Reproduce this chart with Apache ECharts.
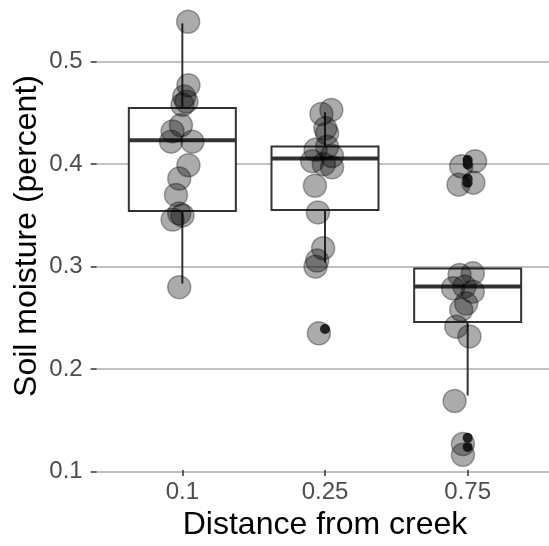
<!DOCTYPE html>
<html>
<head>
<meta charset="utf-8">
<script src="https://cdn.jsdelivr.net/npm/echarts@6/dist/echarts.min.js"></script>
<style>
  html, body { margin: 0; padding: 0; background: #fff; }
  #chart { width: 549px; height: 546px; }
</style>
</head>
<body>
<div id="chart"></div>
<script>
// distance categories and tick labels
const categories = ['0.1', '0.25', '0.75'];
const yTicks = [0.1, 0.2, 0.3, 0.4, 0.5];

// box stats per category: [lower whisker, Q1, median, Q3, upper whisker]
const boxStats = [
    [0.280, 0.352, 0.422, 0.454, 0.538],
    [0.301, 0.353, 0.404, 0.416, 0.450],
    [0.169, 0.242, 0.277, 0.295, 0.295]
];

// outliers: [category index, value]
const outliers = [
    [1, 0.235],
    [2, 0.4025], [2, 0.398], [2, 0.384], [2, 0.380],
    [2, 0.127], [2, 0.118]
];

// soil moisture samples per distance, with horizontal jitter (category units)
const moist01 = [0.539, 0.477, 0.466, 0.461, 0.458, 0.438, 0.432, 0.422, 0.422, 0.399, 0.386, 0.370, 0.352, 0.350, 0.346, 0.280];
const jitter01 = [0.047, 0.049, 0.019, 0.035, 0.007, -0.004, -0.063, -0.074, 0.077, 0.049, -0.016, -0.039, -0.016, 0.007, -0.063, -0.016];

const moist025 = [0.453, 0.449, 0.435, 0.430, 0.417, 0.414, 0.408, 0.403, 0.400, 0.397, 0.379, 0.353, 0.318, 0.306, 0.300, 0.235];
const jitter025 = [0.060, -0.010, 0.018, 0.030, 0.030, -0.052, 0.065, -0.075, 0.007, 0.065, -0.056, -0.035, 0.002, -0.040, -0.052, -0.028];

const moist075 = [0.403, 0.398, 0.382, 0.380, 0.2935, 0.292, 0.2805, 0.279, 0.2756, 0.264, 0.258, 0.2415, 0.232, 0.169, 0.127, 0.1165];
const jitter075 = [0.077, -0.021, 0.065, -0.040, 0.061, -0.033, 0.002, -0.079, 0.061, 0.014, -0.021, -0.056, 0.037, -0.068, -0.009, -0.009];

const samples = [moist01, moist025, moist075];
const jitters = [jitter01, jitter025, jitter075];

const FONT = "'Liberation Sans', Arial, sans-serif";
const BOX_COLOR = '#333333';

const jitterPoints = [];
samples.forEach((vals, ci) => {
    vals.forEach((v, i) => {
        jitterPoints.push([ci + 1 + jitters[ci][i], v]);
    });
});

const boxData = boxStats.map((s, i) => [i].concat(s));

function renderBox(params, api) {
    const ci = api.value(0);
    const half = api.size([1, 0])[0] * 0.375;
    const low = api.coord([ci, api.value(1)]);
    const q1 = api.coord([ci, api.value(2)]);
    const med = api.coord([ci, api.value(3)]);
    const q3 = api.coord([ci, api.value(4)]);
    const high = api.coord([ci, api.value(5)]);
    const x = low[0];
    const stroke = { stroke: BOX_COLOR, lineWidth: 2 };
    return {
        type: 'group',
        children: [
            { type: 'line', shape: { x1: x, y1: high[1], x2: x, y2: q3[1] }, style: stroke },
            { type: 'line', shape: { x1: x, y1: q1[1], x2: x, y2: low[1] }, style: stroke },
            {
                type: 'rect',
                shape: { x: x - half, y: q3[1], width: half * 2, height: q1[1] - q3[1] },
                style: { fill: '#ffffff', stroke: BOX_COLOR, lineWidth: 2 }
            },
            {
                type: 'line',
                shape: { x1: x - half, y1: med[1], x2: x + half, y2: med[1] },
                style: { stroke: BOX_COLOR, lineWidth: 4 }
            }
        ]
    };
}

const chart = echarts.init(document.getElementById('chart'));

const option = {
    animation: false,
    backgroundColor: '#ffffff',
    grid: [
        { left: 96.7, width: 456.6, top: 61.7, height: 410 },
        { left: 111, width: 428, top: 61.7, height: 410 }
    ],
    xAxis: [
        { gridIndex: 0, type: 'value', min: 0.4, max: 3.6, show: false },
        {
            gridIndex: 1,
            type: 'category',
            data: categories,
            offset: 5,
            axisLine: { show: false },
            axisTick: { show: true, alignWithLabel: true, length: 6, lineStyle: { color: BOX_COLOR, width: 1.5 } },
            axisLabel: { fontSize: 24, color: '#4d4d4d', fontFamily: FONT, margin: 10 },
            splitLine: { show: false },
            name: 'Distance from creek',
            nameLocation: 'middle',
            nameGap: 36,
            nameTextStyle: { fontSize: 32, color: '#000', fontFamily: FONT }
        }
    ],
    yAxis: [
        {
            gridIndex: 0,
            type: 'value',
            min: yTicks[0],
            max: yTicks[yTicks.length - 1],
            interval: 0.1,
            axisLine: { show: false },
            axisTick: { show: true, length: 6, lineStyle: { color: BOX_COLOR, width: 1.5 } },
            axisLabel: { fontSize: 24, color: '#4d4d4d', fontFamily: FONT, margin: 14 },
            splitLine: { show: true, lineStyle: { color: '#c2c2c2', width: 2 } }
        },
        { gridIndex: 1, type: 'value', min: yTicks[0], max: yTicks[yTicks.length - 1], show: false }
    ],
    graphic: [{
        type: 'text',
        x: 27,
        y: 236,
        rotation: Math.PI / 2,
        style: {
            text: 'Soil moisture (percent)',
            fontSize: 32,
            fontFamily: FONT,
            fill: '#000',
            align: 'center',
            verticalAlign: 'middle'
        }
    }],
    series: [
        {
            type: 'custom',
            xAxisIndex: 1,
            yAxisIndex: 1,
            renderItem: renderBox,
            data: boxData,
            z: 1
        },
        {
            type: 'scatter',
            xAxisIndex: 1,
            yAxisIndex: 1,
            data: outliers,
            symbolSize: 10,
            itemStyle: { color: BOX_COLOR, opacity: 1 },
            clip: false,
            z: 2
        },
        {
            type: 'scatter',
            xAxisIndex: 0,
            yAxisIndex: 0,
            data: jitterPoints,
            symbolSize: 23,
            itemStyle: { color: 'rgba(0,0,0,0.33)', borderColor: 'rgba(0,0,0,0.33)', borderWidth: 1.5, opacity: 1 },
            clip: false,
            z: 3
        }
    ]
};

chart.setOption(option);
</script>
</body>
</html>
